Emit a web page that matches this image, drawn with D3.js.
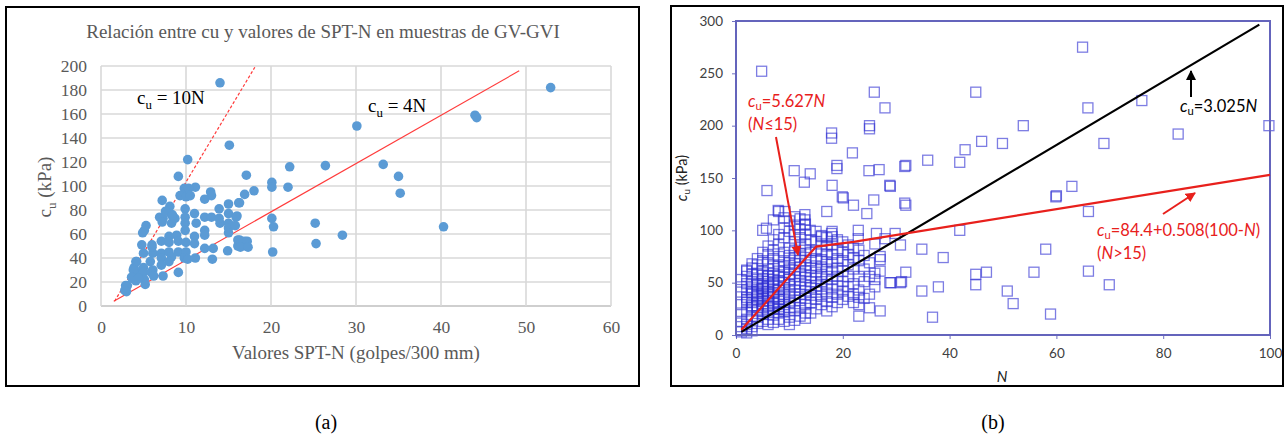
<!DOCTYPE html>
<html>
<head>
<meta charset="utf-8">
<script src="https://cdn.jsdelivr.net/npm/d3@7"></script>
<style>
  body { margin: 0; background: #fff; }
  svg { display: block; }
</style>
</head>
<body>
<svg id="fig" width="1285" height="437"></svg>
<script>
// ---------- Panel (a): GV-GVI samples, cu vs SPT-N ----------
const aTitle = "Relación entre cu y valores de SPT-N en muestras de GV-GVI";
const aXLabel = "Valores SPT-N (golpes/300 mm)";
const aXTicks = [0, 10, 20, 30, 40, 50, 60];
const aYTicks = [0, 20, 40, 60, 80, 100, 120, 140, 160, 180, 200];
// [N, cu (kPa)]
const aPoints = [
  [14.0,186],[15.1,134],[10.2,122],[9.1,108],[17.1,109],[22.2,116],[20.1,103],[20.1,99],
  [22,99],[9.8,98],[11.1,99],[18,96],[16.9,93],[12.9,95],[13,92],[12.2,89],[9.3,92],[10,91],
  [7.2,88],[16.2,86],[15,85],[13.9,81],[8.1,83],[9.9,81],[15,77],[11,77],[16,75],[8.3,76],
  [6.9,74],[9.9,74],[12.2,74],[13,74],[20.1,73],[14,69],[15,69],[11.2,69],[8.3,69],[9.9,69],
  [20.3,66],[5.3,67],[5.1,63],[4.9,61],[12.2,63],[15,65],[9.9,63],[8.9,59],[8,58],[12.2,59],
  [15,61],[11,58],[16.1,55],[16.9,54],[16.1,50],[17.1,50],[4.8,51],[6,51],[7.1,54],[8,53],
  [9.1,54],[10,53],[11,52],[12.2,48],[13.2,48],[14.9,46],[20.2,45],[5,44],[6.1,44],[7.1,44],
  [8,45],[9.1,45],[10,45],[7.1,40],[8.3,41],[9.8,40],[10.2,39],[11.1,40],[13.1,39],[4.1,37],
  [5.8,37],[8,37],[7.1,34],[3.9,32],[5,32],[6.1,30],[4.3,28],[5,28],[5.9,28],[9.1,28],
  [3.7,23],[5.1,22],[7.3,25],[4.1,21],[5.2,18],[3.1,17],[3,12],[6.2,25],
  [10.3,98],[10.5,92],[16.3,86],[13.9,73],[15.9,74],[15.8,67],[16.3,55],[17.2,54],[16.4,49],
  [17.3,49],[6,49],[7.3,73],[7.2,70],[7.6,79],[8.7,73],[8.4,76],[2.9,17],[2.8,13],[4.2,37],
  [3.8,30],[3.6,24],[4.4,23],
  [25.2,69],[25.3,52],[28.4,59],[40.3,66],[35,108],[35.2,94],[33.2,118],[26.4,117],
  [30.1,150],[44,159],[44.2,157],[52.9,182]
];
// Reference lines cu = 10N (dashed) and cu = 4N (solid), as drawn
const aLine10N = [[1.6,4],[18.1,199]];
const aLine4N = [[1.5,4],[49.2,196]];

// ---------- Panel (b): cu vs N with fitted relations ----------
const bXTicks = [0, 20, 40, 60, 80, 100];
const bYTicks = [0, 50, 100, 150, 200, 250, 300];
// sparse observations [N, cu (kPa)]
const bSparse = [
  [4.8,252],[25.9,232],[27.9,217],[17.9,193],[17.9,188],[25,200],[25,197],[21.8,174],
  [18.9,162],[18.9,159],[10.9,157],[13.9,154],[12.8,146],[18,143],[19.9,132],[25.8,129],
  [28.9,142],[31.6,126],[24.9,157],[26.8,158],[31.6,161],[5.8,138],[20.1,131],[22,124],
  [24.5,116],[17,118],[7.9,119],[9.2,118],[12.9,115],[12.9,110],[11,113],[12.9,105],
  [5.7,102],[13.9,100],[16,95],[17.9,97],[22.9,100],[22.9,92],[26.3,97],[27.9,92],
  [64.9,275],[44.9,232],[65.9,217],[76,224],[53.8,200],[82.8,192],[99.8,200],[46,185],
  [49.9,183],[42.9,177],[68.9,183],[41.9,165],[35.9,167],[31.8,162],[28.8,143],[31.8,124],
  [62.9,142],[59.9,132],[60,133],[66,118],[41.9,100],[29.8,97],[30.8,86],[34.8,82],
  [38.8,74],[58,82],[27,75],[27,72],[31.8,60],[55.8,60],[66,61],[44.9,58],[46.9,60],
  [28.8,50],[30.8,50],[31,51],[44.9,48],[37.9,46],[34.8,42],[50.8,42],[69.9,48],[51.9,30],
  [27,23],[36.8,17],[58.9,20]
];
// dense cluster of observations at low N [N, cu (kPa)]
const bDense = [
  [1,3],[2,6],[2,10],[1,13],[3,8],[2,15],[4,11],[3,18],[1,21],[2,23],[5,13],[4,17],[6,10],
  [5,20],[3,26],[1,29],[2,31],[4,23],[6,15],[7,12],[8,15],[7,19],[9,13],[10,17],[9,22],
  [11,14],[12,18],[8,25],[13,21],[10,10],[3,4],[1,8],[2,2],
  [2,36],[2,43],[2,49],[2,56],[2,61],[3,31],[3,39],[3,45],[3,51],[3,58],[3,64],[4,28],
  [4,34],[4,40],[4,42],[4,47],[4,53],[4,59],[4,67],[5,26],[5,30],[5,35],[5,38],[5,41],
  [5,45],[5,49],[5,54],[5,61],[5,71],[6,23],[6,28],[6,33],[6,37],[6,42],[6,46],[6,51],
  [6,57],[6,63],[6,69],[6,77],[7,25],[7,31],[7,36],[7,40],[7,44],[7,48],[7,53],[7,59],
  [7,66],[7,73],[7,81],[8,21],[8,27],[8,32],[8,37],[8,43],[8,47],[8,52],[8,56],[8,61],
  [8,67],[8,75],[8,87],[9,24],[9,29],[9,34],[9,39],[9,45],[9,50],[9,55],[9,60],[9,65],
  [9,71],[9,79],[9,93],[10,26],[10,31],[10,37],[10,42],[10,48],[10,53],[10,58],[10,63],
  [10,69],[10,76],[10,83],[10,99],[3,41],[4,37],[5,44],[6,39],[4,48],[5,32],[6,56],[7,50],
  [8,34],[7,30],[5,57],[4,24],[6,27],[3,28],[2,34],[1,41],[1,46],[1,53],[2,62],[3,68],
  [4,73],[5,79],[6,85],[7,91],[8,96],[9,102],[10,109],[5,100],[8,118],[9,112],[7,110],
  [11,23],[11,30],[11,36],[11,43],[11,49],[11,56],[11,62],[11,68],[11,74],[11,81],[11,89],
  [11,96],[11,105],[12,26],[12,33],[12,39],[12,46],[12,52],[12,59],[12,65],[12,71],[12,78],
  [12,85],[12,93],[12,101],[12,111],[13,16],[13,29],[13,35],[13,42],[13,48],[13,55],[13,61],
  [13,67],[13,74],[13,81],[13,87],[13,96],[13,106],[14,21],[14,31],[14,38],[14,45],[14,51],
  [14,57],[14,64],[14,71],[14,79],[14,91],[15,25],[15,34],[15,41],[15,47],[15,54],[15,60],
  [15,66],[15,73],[15,81],[15,89],[15,99],[16,29],[16,37],[16,44],[16,51],[16,58],[16,65],
  [16,72],[16,80],[16,87],[16,94],[17,23],[17,32],[17,40],[17,48],[17,56],[17,63],[17,70],
  [17,77],[17,85],[17,93],[18,27],[18,36],[18,44],[18,53],[18,61],[18,69],[18,77],[18,86],
  [18,94],[18,99],[19,31],[19,39],[19,47],[19,56],[19,64],[19,73],[19,81],[19,91],[20,34],
  [20,42],[20,51],[20,61],[20,71],[20,79],[20,89],
  [21,37],[21,46],[21,56],[21,67],[21,77],[21,86],[22,31],[22,39],[22,49],[22,63],[22,74],
  [22,83],[23,18],[23,29],[23,36],[23,43],[23,56],[23,71],[23,81],[24,35],[24,51],[24,63],
  [24,76],[25,26],[25,39],[25,56],[25,69],[26,46],[26,59],[26,87],[26,53],[27,61],[29,50]
];
// fitted relations: cu = 3.025N (black) and the piecewise fit (red)
const bLineLinear = [[1,3],[98,296.5]];
const bLinePiecewise = [[1,5],[15,84.4],[22,89],[100,153]];

// ---------- drawing ----------
const svg = d3.select("#fig");
const serif = "'Liberation Serif', 'Times New Roman', serif";
const sans = "Lato, 'Open Sans', 'Liberation Sans', sans-serif";

// marker definitions for arrow heads
const defs = svg.append("defs");
[["arrRed", "#e8201c"], ["arrBlack", "#000"]].forEach(([id, c]) => {
  defs.append("marker").attr("id", id).attr("viewBox", "0 0 10 10")
    .attr("refX", 9).attr("refY", 5).attr("markerWidth", 5).attr("markerHeight", 5)
    .attr("orient", "auto")
    .append("path").attr("d", "M0,0 L10,5 L0,10 z").attr("fill", c);
});

// helper: text with a subscript "u" after a "c"
function cuLabel(sel, rest, opts) {
  const shift = opts.size * (opts.sub || 0.28);
  const t = sel.append("text")
    .attr("x", opts.x).attr("y", opts.y)
    .attr("font-family", opts.family).attr("font-size", opts.size)
    .attr("fill", opts.fill).attr("text-anchor", opts.anchor || "start");
  if (opts.rotate) t.attr("transform", `rotate(-90 ${opts.x} ${opts.y})`);
  t.append("tspan").attr("font-style", opts.italicC ? "italic" : null).text("c");
  t.append("tspan").attr("dy", shift).attr("font-size", opts.size * 0.68).text("u");
  rest.forEach(r => {
    t.append("tspan").attr("dy", r.first ? -shift : null)
      .attr("font-style", r.italic ? "italic" : null).text(r.text);
  });
  return t;
}

// ===== Panel (a) =====
const gA = svg.append("g");
gA.append("rect").attr("x", 6).attr("y", 7).attr("width", 633).attr("height", 379)
  .attr("fill", "#fff").attr("stroke", "#000").attr("stroke-width", 2);

const xA = d3.scaleLinear().domain([0, 60]).range([101, 611]);
const yA = d3.scaleLinear().domain([0, 200]).range([306, 66]);

// grid
gA.append("g").selectAll("line.h").data(aYTicks).join("line")
  .attr("x1", xA(0)).attr("x2", xA(60)).attr("y1", d => yA(d)).attr("y2", d => yA(d))
  .attr("stroke", d => d === 0 ? "#bfbfbf" : "#d9d9d9").attr("stroke-width", 1.6);
gA.append("g").selectAll("line.v").data(aXTicks).join("line")
  .attr("y1", yA(0)).attr("y2", yA(200)).attr("x1", d => xA(d)).attr("x2", d => xA(d))
  .attr("stroke", "#d9d9d9").attr("stroke-width", 1.6);

// axes
const axAx = gA.append("g").attr("transform", `translate(0,${yA(0)})`)
  .call(d3.axisBottom(xA).tickValues(aXTicks).tickSize(0).tickPadding(15));
const axAy = gA.append("g").attr("transform", `translate(${xA(0)},0)`)
  .call(d3.axisLeft(yA).tickValues(aYTicks).tickSize(0).tickPadding(14));
[axAx, axAy].forEach(a => {
  a.select(".domain").remove();
  a.selectAll("text").attr("font-family", serif).attr("font-size", 17.5).attr("fill", "#595959");
});

// reference lines
const lineA = d3.line().x(d => xA(d[0])).y(d => yA(d[1]));
gA.append("path").attr("d", lineA(aLine10N)).attr("fill", "none")
  .attr("stroke", "#ff3b3b").attr("stroke-width", 1.2).attr("stroke-dasharray", "3,2");
gA.append("path").attr("d", lineA(aLine4N)).attr("fill", "none")
  .attr("stroke", "#ff3b3b").attr("stroke-width", 1.1);

// points
gA.append("g").selectAll("circle").data(aPoints).join("circle")
  .attr("cx", d => xA(d[0])).attr("cy", d => yA(d[1])).attr("r", 4.8)
  .attr("fill", "#5b9bd5");

// titles
gA.append("text").attr("x", 323).attr("y", 38).attr("text-anchor", "middle")
  .attr("font-family", serif).attr("font-size", 19).attr("fill", "#595959").text(aTitle);
gA.append("text").attr("x", 356).attr("y", 359).attr("text-anchor", "middle")
  .attr("font-family", serif).attr("font-size", 19).attr("fill", "#595959").text(aXLabel);
cuLabel(gA, [{ text: " (kPa)", first: true }],
  { x: 51, y: 187, family: serif, size: 19, fill: "#595959", anchor: "middle", rotate: true });
cuLabel(gA, [{ text: " = 10N", first: true }],
  { x: 137, y: 104, family: serif, size: 19, fill: "#000" });
cuLabel(gA, [{ text: " = 4N", first: true }],
  { x: 368, y: 112, family: serif, size: 19, fill: "#000" });

// ===== Panel (b) =====
const gB = svg.append("g");
gB.append("rect").attr("x", 671).attr("y", 6).attr("width", 612).attr("height", 380)
  .attr("fill", "#fff").attr("stroke", "#000").attr("stroke-width", 2);

const xB = d3.scaleLinear().domain([0, 100]).range([736, 1270]);
const yB = d3.scaleLinear().domain([0, 300]).range([335, 21]);

const axBx = gB.append("g").attr("transform", `translate(0,${yB(0)})`)
  .call(d3.axisBottom(xB).tickValues(bXTicks).tickSize(4).tickPadding(9));
const axBy = gB.append("g").attr("transform", `translate(${xB(0)},0)`)
  .call(d3.axisLeft(yB).tickValues(bYTicks).tickSize(4).tickPadding(9));
[axBx, axBy].forEach(a => {
  a.select(".domain").remove();
  a.selectAll("line").attr("stroke", "#7070c0");
  a.selectAll("text").attr("font-family", sans).attr("font-size", 13.5).attr("fill", "#404040");
});

// squares
const sq = 10;
gB.append("g").selectAll("rect").data(bDense.concat(bSparse)).join("rect")
  .attr("x", d => xB(d[0]) - sq / 2).attr("y", d => yB(d[1]) - sq / 2)
  .attr("width", sq).attr("height", sq)
  .attr("fill", "none").attr("stroke", "#2d2dd2").attr("stroke-opacity", 0.62)
  .attr("stroke-width", 1.3);

// plot frame
gB.append("rect").attr("x", xB(0)).attr("y", yB(300))
  .attr("width", xB(100) - xB(0)).attr("height", yB(0) - yB(300))
  .attr("fill", "none").attr("stroke", "#6464bc").attr("stroke-width", 2);

// fitted lines
const lineB = d3.line().x(d => xB(d[0])).y(d => yB(d[1]));
gB.append("path").attr("d", lineB(bLineLinear)).attr("fill", "none")
  .attr("stroke", "#000").attr("stroke-width", 2.2);
gB.append("path").attr("d", lineB(bLinePiecewise)).attr("fill", "none")
  .attr("stroke", "#e8201c").attr("stroke-width", 2.2);

// annotation arrows
gB.append("line").attr("x1", 776).attr("y1", 137).attr("x2", 798).attr("y2", 255)
  .attr("stroke", "#e8201c").attr("stroke-width", 2).attr("marker-end", "url(#arrRed)");
gB.append("line").attr("x1", 1163).attr("y1", 214).attr("x2", 1195).attr("y2", 193)
  .attr("stroke", "#e8201c").attr("stroke-width", 2).attr("marker-end", "url(#arrRed)");
gB.append("line").attr("x1", 1191).attr("y1", 97).attr("x2", 1191).attr("y2", 71)
  .attr("stroke", "#000").attr("stroke-width", 2).attr("marker-end", "url(#arrBlack)");

// annotation text
const red = "#e8201c";
cuLabel(gB, [{ text: "=5.627", first: true }, { text: "N", italic: true }],
  { x: 748, y: 107, family: sans, size: 16.5, fill: red, italicC: true, sub: 0.2 });
gB.append("text").attr("x", 748).attr("y", 130).attr("font-family", sans).attr("font-size", 16.5)
  .attr("fill", red).call(t => {
    t.append("tspan").text("(");
    t.append("tspan").attr("font-style", "italic").text("N");
    t.append("tspan").text("≤15)");
  });
cuLabel(gB, [{ text: "=3.025", first: true }, { text: "N", italic: true }],
  { x: 1180, y: 112, family: sans, size: 16.5, fill: "#000", italicC: true, sub: 0.2 });
cuLabel(gB, [{ text: "=84.4+0.508(100-", first: true }, { text: "N", italic: true }, { text: ")" }],
  { x: 1097, y: 236, family: sans, size: 16.5, fill: red, italicC: true, sub: 0.2 });
gB.append("text").attr("x", 1097).attr("y", 259).attr("font-family", sans).attr("font-size", 16.5)
  .attr("fill", red).call(t => {
    t.append("tspan").text("(");
    t.append("tspan").attr("font-style", "italic").text("N");
    t.append("tspan").text(">15)");
  });

// axis titles
gB.append("text").attr("x", 1002).attr("y", 382).attr("text-anchor", "middle")
  .attr("font-family", sans).attr("font-size", 15).attr("font-style", "italic")
  .attr("fill", "#222").text("N");
cuLabel(gB, [{ text: " (kPa)", first: true }],
  { x: 687, y: 178, family: sans, size: 14.5, fill: "#222", anchor: "middle", rotate: true, italicC: true, sub: 0.2 });

// captions
svg.append("text").attr("x", 326).attr("y", 429).attr("text-anchor", "middle")
  .attr("font-family", serif).attr("font-size", 20).attr("fill", "#000").text("(a)");
svg.append("text").attr("x", 993).attr("y", 429).attr("text-anchor", "middle")
  .attr("font-family", serif).attr("font-size", 20).attr("fill", "#000").text("(b)");
</script>
</body>
</html>
